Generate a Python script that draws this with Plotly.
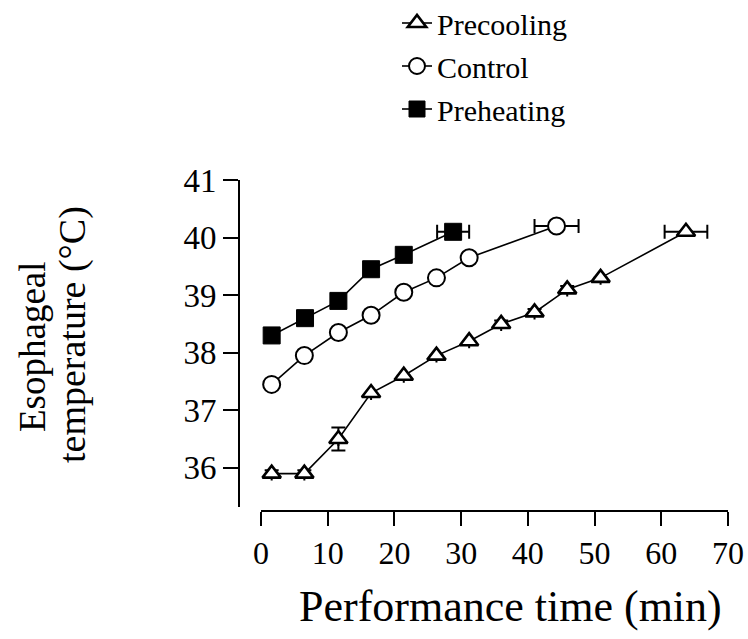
import plotly.graph_objects as go

# ---- data ----
series_names = ["Precooling", "Control", "Preheating"]

pre_cool_time = [1.6, 6.5, 11.6, 16.5, 21.4, 26.3, 31.2, 36.0, 41.0, 45.9, 50.9, 63.7]
pre_cool_temp = [35.9, 35.9, 36.5, 37.3, 37.6, 37.95, 38.2, 38.5, 38.7, 39.1, 39.3, 40.1]
pre_cool_temp_err = [0.06, 0.06, 0.2, None, None, None, None, 0.06, 0.06, 0.06, None, None]
pre_cool_time_err = [None] * 11 + [3.2]

control_time = [1.6, 6.5, 11.6, 16.5, 21.4, 26.3, 31.2, 44.3]
control_temp = [37.45, 37.95, 38.35, 38.65, 39.05, 39.3, 39.65, 40.2]
control_time_err = [None] * 7 + [3.3]

pre_heat_time = [1.6, 6.6, 11.6, 16.5, 21.4, 28.8]
pre_heat_temp = [38.3, 38.6, 38.9, 39.45, 39.7, 40.1]
pre_heat_time_err = [None] * 5 + [2.4]

x_ticks = [0, 10, 20, 30, 40, 50, 60, 70]
y_ticks = [36, 37, 38, 39, 40, 41]

FONT = "Liberation Serif, Times New Roman, serif"
W, H = 748, 639

err_style = dict(type="data", color="black", thickness=2, width=7)

fig = go.Figure()
fig.add_trace(go.Scatter(
    x=pre_cool_time, y=pre_cool_temp, name=series_names[0], mode="lines+markers",
    legendgroup="a",
    line=dict(color="black", width=1.6),
    marker=dict(symbol="triangle-up", size=16, color="white", line=dict(color="black", width=2.6)),
    error_y=dict(array=pre_cool_temp_err, **err_style),
    error_x=dict(array=pre_cool_time_err, **err_style),
    cliponaxis=False,
))
fig.add_trace(go.Scatter(
    x=control_time, y=control_temp, name=series_names[1], mode="lines+markers",
    legendgroup="b",
    line=dict(color="black", width=1.6),
    marker=dict(symbol="circle", size=17, color="white", line=dict(color="black", width=2)),
    error_x=dict(array=control_time_err, **err_style),
    cliponaxis=False,
))
fig.add_trace(go.Scatter(
    x=pre_heat_time, y=pre_heat_temp, name=series_names[2], mode="lines+markers",
    legendgroup="c",
    line=dict(color="black", width=1.6),
    marker=dict(symbol="square", size=17, color="black", line=dict(color="black", width=1)),
    error_x=dict(array=pre_heat_time_err, **err_style),
    cliponaxis=False,
))

fig.update_layout(
    width=W, height=H,
    margin=dict(l=0, r=0, t=0, b=0, autoexpand=False),
    paper_bgcolor="white", plot_bgcolor="white",
    font=dict(family=FONT, color="black"),
    showlegend=True,
    legend=dict(x=397 / W, y=1.0 + 3 / H, xanchor="left", yanchor="top",
                font=dict(family=FONT, size=30, color="black"),
                bgcolor="rgba(0,0,0,0)", tracegroupgap=1),
    xaxis=dict(domain=[261 / W, 728 / W], range=[0, 70], anchor="free",
               position=(H - 511) / H,
               showline=True, linecolor="black", linewidth=2,
               ticks="outside", ticklen=14, tickwidth=2, tickcolor="black",
               tickvals=x_ticks, tickfont=dict(family=FONT, size=32, color="black"),
               showgrid=False, zeroline=False),
    yaxis=dict(domain=[(H - 507) / H, (H - 180) / H], range=[35.32, 41], anchor="free",
               position=239 / W,
               showline=True, linecolor="black", linewidth=2,
               ticks="outside", ticklen=15, tickwidth=2, tickcolor="black",
               tickvals=y_ticks, tickfont=dict(family=FONT, size=33, color="black"),
               showgrid=False, zeroline=False),
    annotations=[
        dict(text="Performance time (min)", x=511 / W, y=(H - 606) / H, xref="paper", yref="paper",
             showarrow=False, xanchor="center", yanchor="middle",
             font=dict(family=FONT, size=44, color="black")),
        dict(text="Esophageal", x=32 / W, y=(H - 347) / H, xref="paper", yref="paper",
             textangle=-90, showarrow=False, xanchor="center", yanchor="middle",
             font=dict(family=FONT, size=37, color="black")),
        dict(text="temperature (°C)", x=72 / W, y=(H - 335) / H, xref="paper", yref="paper",
             textangle=-90, showarrow=False, xanchor="center", yanchor="middle",
             font=dict(family=FONT, size=38, color="black")),
    ],
)

fig.write_html("out.html")
